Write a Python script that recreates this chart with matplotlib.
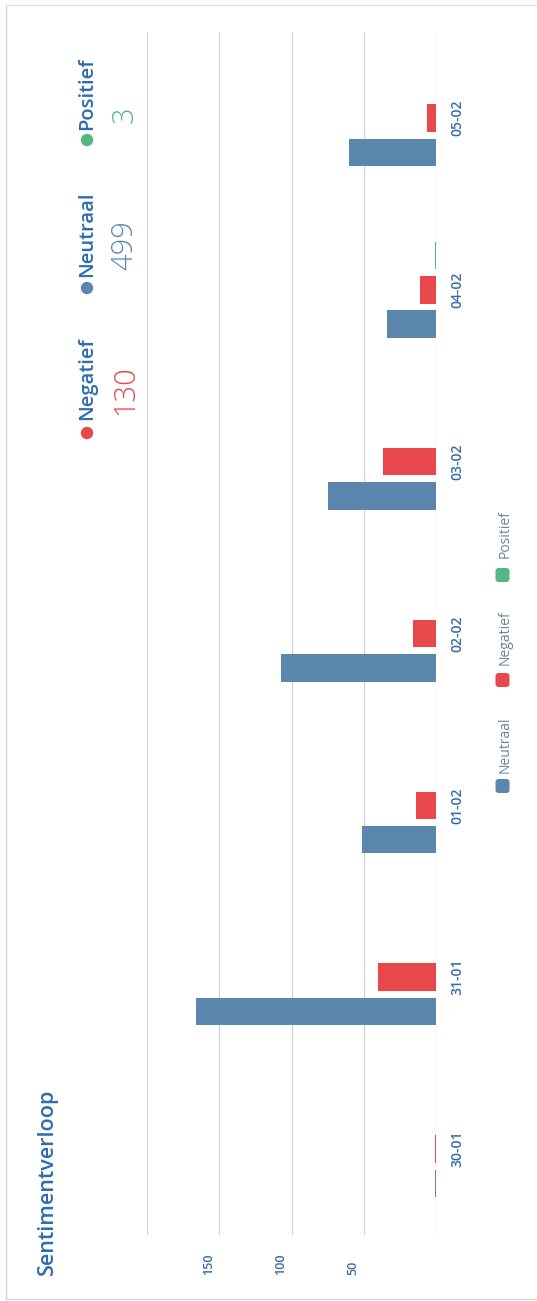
import matplotlib.pyplot as plt
import matplotlib.transforms as mtrans
from matplotlib.patches import FancyBboxPatch
import numpy as np

plt.rcParams['font.family'] = ['Open Sans', 'DejaVu Sans']

dates = ['30-01', '31-01', '01-02', '02-02', '03-02', '04-02', '05-02']
neutraal = [1, 166, 51, 107, 75, 34, 60]
negatief = [1, 40, 14, 16, 37, 11, 6]
positief = [0, 0, 0, 0, 0, 1, 0]
series_names = ['Neutraal', 'Negatief', 'Positief']
totals = [130, 499, 3]          # Negatief, Neutraal, Positief
total_names = ['Negatief', 'Neutraal', 'Positief']
value_ticks = [50, 100, 150]
grid_vals = [0, 50, 100, 150, 200]

C_NEU = '#5b87ae'
C_NEG = '#e8474c'
C_POS = '#55b786'
C_TITLE = '#2e6bb0'
C_TICK = '#3a6ca4'
C_LEG = '#6d8399'

W, H = 537, 1301
fig = plt.figure(figsize=(W / 100, H / 100), dpi=100)
fig.patch.set_facecolor('white')

# the page is rotated: values go to the left, days go up
ax = fig.add_axes([147 / W, 1 - 1235 / H, (436 - 147) / W, (1235 - 32) / H])
ax.set_xlim(200, 0)
ax.set_ylim(-0.5, len(dates) - 0.5)
for s in ax.spines.values():
    s.set_visible(False)
ax.set_xticks(grid_vals)
ax.set_yticks([])
ax.tick_params(axis='x', length=0, labelbottom=False)
ax.grid(axis='x', color='#d4d4d4', lw=0.9)
ax.set_axisbelow(True)

idx = np.arange(len(dates))
bh = 0.16
ax.barh(idx - 0.2, neutraal, height=bh, color=C_NEU)
ax.barh(idx, negatief, height=bh, color=C_NEG)
ax.barh(idx + 0.2, positief, height=bh, color=C_POS)

# day labels
tr = mtrans.blended_transform_factory(ax.transAxes, ax.transData)
for i, d in enumerate(dates):
    ax.text(1.0727, i, d, transform=tr, rotation=90, ha='center', va='center',
            fontsize=10, fontweight='semibold', color=C_TICK)

# value labels
tr2 = mtrans.offset_copy(ax.transData, fig=fig, x=-11, y=0, units='dots')
for v in value_ticks:
    ax.text(v, -0.733, str(v), transform=tr2, rotation=90, ha='center',
            va='bottom', fontsize=9, fontweight='semibold', color=C_TICK,
            clip_on=False)

# overlay in pixel coords for the rest of the card
ov = fig.add_axes([0, 0, 1, 1], facecolor='none')
ov.set_xlim(0, W)
ov.set_ylim(H, 0)
ov.axis('off')

# card border
ov.plot([6, 6], [5, 1299], color='#d6d6d6', lw=1)
ov.plot([6, W], [5, 5], color='#e0e0e0', lw=1)
ov.plot([6, W], [1299, 1299], color='#d6d6d6', lw=1)

ov.text(47, 1275, 'Sentimentverloop', rotation=90, ha='center', va='bottom',
        fontsize=15.5, fontweight='semibold', color=C_TITLE)

# legend
leg_cols = [C_NEU, C_NEG, C_POS]
leg_mark_y = [786, 680, 575]
leg_text_y = [773, 665, 558]
for name, c, my, ty in zip(series_names, leg_cols, leg_mark_y, leg_text_y):
    ov.add_patch(FancyBboxPatch((495.5, my - 7), 14, 14,
                                boxstyle='round,pad=0,rounding_size=3',
                                fc=c, ec='none'))
    ov.text(505, ty, name, rotation=90, ha='center', va='bottom',
            fontsize=10, color=C_LEG)

# totals
tot_cols = [C_NEG, C_NEU, C_POS]
lab_y = [420, 277, 130]
dot_y = [433, 288, 140]
num_y = [415, 270, 123]
for name, t, c, ly, dy, ny in zip(total_names, totals, tot_cols, lab_y, dot_y, num_y):
    ov.scatter([87], [dy], s=80, color=c, edgecolors='none')
    ov.text(87, ly, name, rotation=90, ha='center', va='bottom',
            fontsize=14.5, fontweight='semibold', color=C_TITLE)
    ov.text(125, ny, str(t), rotation=90, ha='center', va='bottom',
            fontsize=21, fontweight='light', color=c)

fig.savefig('out.png', dpi=100)
